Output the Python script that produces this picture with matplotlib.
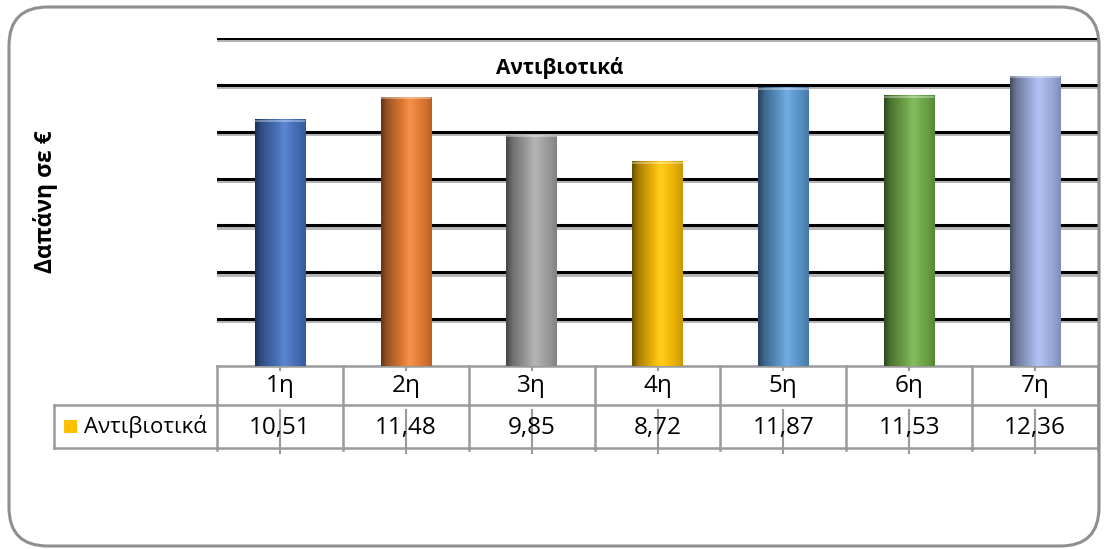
import numpy as np
import matplotlib
matplotlib.use("Agg")
import matplotlib.pyplot as plt
from matplotlib.patches import FancyBboxPatch, Rectangle
from matplotlib.lines import Line2D
import matplotlib.patheffects as pe
from matplotlib.colors import to_rgb

plt.rcParams['font.family'] = ['Open Sans', 'DejaVu Sans']

categories = ["1η", "2η", "3η", "4η", "5η", "6η", "7η"]
values = [10.51, 11.48, 9.85, 8.72, 11.87, 11.53, 12.36]
value_labels = ["10,51", "11,48", "9,85", "8,72", "11,87", "11,53", "12,36"]
series_name = "Αντιβιοτικά"
title = "Αντιβιοτικά"
ylabel = "Δαπάνη σε €"
bar_colors = ["#4472C4", "#ED7D31", "#A5A5A5", "#FFC000", "#5B9BD5", "#70AD47", "#A3B5EA"]
legend_color = "#FFC000"

W, H = 1104, 549
fig = plt.figure(figsize=(W / 100, H / 100), dpi=100)

def fx(x):
    return x / W

def fy(y):
    return 1 - y / H

# outer rounded border
border = FancyBboxPatch((fx(9), fy(546)), fx(1099) - fx(9), fy(7) - fy(546),
                        boxstyle="round,pad=0,rounding_size=0.035",
                        transform=fig.transFigure, fill=False,
                        edgecolor="#8f8f8f", linewidth=2.2, mutation_aspect=W / H)
fig.patches.append(border)

ax = fig.add_axes([fx(217), fy(366), fx(1098) - fx(217), fy(38) - fy(366)])
ax.set_xlim(-0.5, len(categories) - 0.5)
ax.set_ylim(0, 14)
for s in ax.spines.values():
    s.set_visible(False)
ax.set_xticks([])
ax.set_yticks([])

# gridlines
for g in np.arange(2, 15, 2):
    ax.axhline(g, color="black", lw=2.2, zorder=1,
               path_effects=[pe.SimpleLineShadow(offset=(0, -1.6), shadow_color="#888888", alpha=0.6),
                             pe.Normal()])

# gradient bars
def gradient(color, n=80):
    base = np.array(to_rgb(color))
    t = np.linspace(0, 1, n)
    f = np.interp(t, [0, 0.12, 0.55, 0.85, 1.0], [0.42, 0.65, 1.04, 0.9, 0.78])
    rgb = np.clip(base[None, :] * f[:, None], 0, 1)
    hi = np.interp(t, [0, 0.45, 0.6, 0.75, 1], [0, 0.05, 0.12, 0.04, 0])
    rgb = np.clip(rgb + (1 - rgb) * hi[:, None], 0, 1)
    return rgb[None, :, :]

bw = 0.4
for i, (v, c) in enumerate(zip(values, bar_colors)):
    ax.imshow(gradient(c), extent=(i - bw / 2, i + bw / 2, 0, v),
              aspect="auto", zorder=3, interpolation="bilinear")
    ax.add_patch(Rectangle((i - bw / 2, v - 0.08), bw, 0.08, facecolor="white",
                           alpha=0.35, lw=0, zorder=4))
ax.set_xlim(-0.5, len(categories) - 0.5)
ax.set_ylim(0, 14)

fig.text(fx(560), fy(68), title, ha="center", va="center",
         fontsize=15, fontweight="bold", zorder=5)

fig.text(fx(45), fy(202), ylabel, rotation=90, ha="center", va="center",
         fontsize=16.5, fontweight="bold")

# data table
tr = ax.get_xaxis_transform()
axh = 366 - 38
def ay(y):
    return -(y - 366) / axh

gc = "#9a9a9a"
n = len(categories)
for y in (366, 405, 448):
    ax.add_line(Line2D([-0.5, n - 0.5], [ay(y), ay(y)], transform=tr, color=gc,
                       lw=1.8, clip_on=False))
for i in range(n + 1):
    ax.add_line(Line2D([i - 0.5, i - 0.5], [ay(366), ay(450)], transform=tr, color=gc,
                       lw=1.8, clip_on=False))
for i in range(n):
    ax.add_line(Line2D([i, i], [ay(360), ay(370)], transform=tr, color=gc, lw=1.5, clip_on=False))
    ax.add_line(Line2D([i, i], [ay(410), ay(453)], transform=tr, color=gc, lw=1.5, clip_on=False))
    ax.text(i, ay(386), categories[i], transform=tr, ha="center", va="center", fontsize=17.5)
    ax.text(i, ay(428), value_labels[i], transform=tr, ha="center", va="center", fontsize=17.5)

# legend cell
for (x0, y0, x1, y1) in [(54, 405, 217, 405), (54, 448, 217, 448), (54, 405, 54, 448)]:
    fig.add_artist(Line2D([fx(x0), fx(x1)], [fy(y0), fy(y1)], transform=fig.transFigure,
                          color=gc, lw=1.8))
fig.add_artist(Rectangle((fx(64), fy(433)), fx(77) - fx(64), fy(420) - fy(433),
                         transform=fig.transFigure, facecolor=legend_color, edgecolor="none"))
fig.text(fx(84), fy(427), series_name, ha="left", va="center", fontsize=16)

fig.savefig("out.png", dpi=100)
